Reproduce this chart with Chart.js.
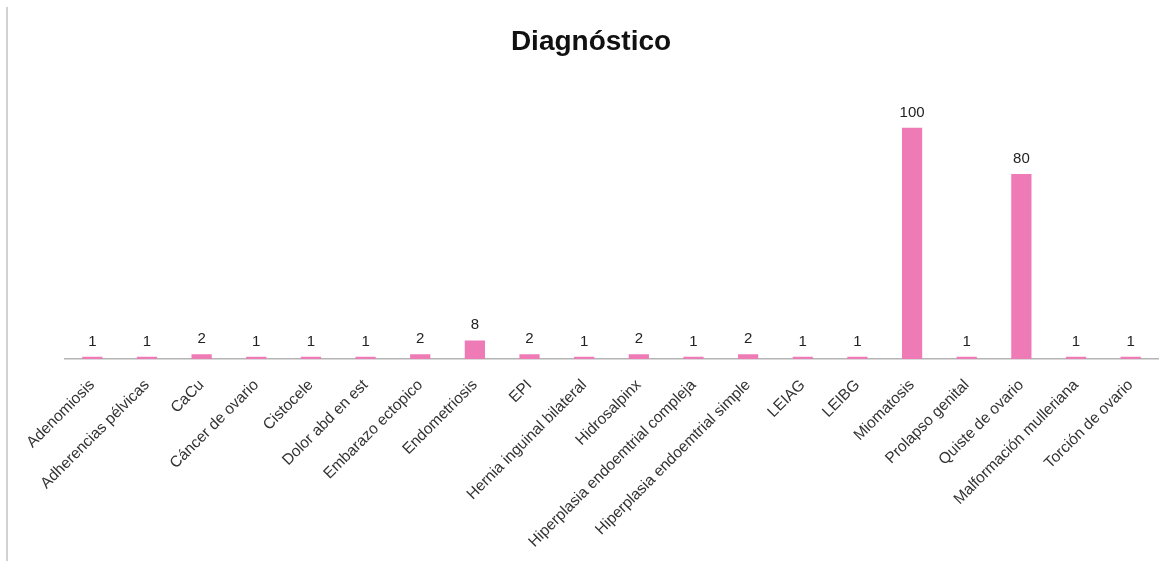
<!DOCTYPE html>
<html>
<head>
<meta charset="utf-8">
<style>
  html, body { margin: 0; padding: 0; background: #fff; }
  #wrap { position: relative; width: 1168px; height: 561px; }
</style>
<script src="https://cdn.jsdelivr.net/npm/chart.js@4.4.1/dist/chart.umd.min.js"></script>
</head>
<body>
<div id="wrap"><canvas id="chart" width="1168" height="561"></canvas></div>
<script>
const diagnosticos = [
  'Adenomiosis', 'Adherencias pélvicas', 'CaCu', 'Cáncer de ovario', 'Cistocele',
  'Dolor abd en est', 'Embarazo ectopico', 'Endometriosis', 'EPI',
  'Hernia inguinal bilateral', 'Hidrosalpinx', 'Hiperplasia endoemtrial compleja',
  'Hiperplasia endoemtrial simple', 'LEIAG', 'LEIBG', 'Miomatosis',
  'Prolapso genital', 'Quiste de ovario', 'Malformación mulleriana', 'Torción de ovario'
];
const casos = [1, 1, 2, 1, 1, 1, 2, 8, 2, 1, 2, 1, 2, 1, 1, 100, 1, 80, 1, 1];
const tituloGrafica = 'Diagnóstico';

const FONT = '"Liberation Sans", Arial, Helvetica, sans-serif';

// thin grey rule along the left edge of the sheet
const marcoIzquierdo = {
  id: 'marcoIzquierdo',
  beforeDraw(chart) {
    const ctx = chart.ctx;
    ctx.save();
    ctx.fillStyle = '#d2d2d2';
    ctx.fillRect(6, 7, 2, chart.height - 7);
    ctx.restore();
  }
};

// value printed above each bar
const etiquetasValor = {
  id: 'etiquetasValor',
  afterDatasetsDraw(chart) {
    const ctx = chart.ctx;
    const meta = chart.getDatasetMeta(0);
    ctx.save();
    ctx.font = '15px ' + FONT;
    ctx.fillStyle = '#222';
    ctx.textAlign = 'center';
    ctx.textBaseline = 'alphabetic';
    meta.data.forEach((bar, i) => {
      ctx.fillText(String(chart.data.datasets[0].data[i]), bar.x, bar.y - 11);
    });
    ctx.restore();
  }
};

new Chart(document.getElementById('chart'), {
  type: 'bar',
  data: {
    labels: diagnosticos,
    datasets: [{
      data: casos,
      backgroundColor: '#EE7BB6',
      borderWidth: 0,
      barPercentage: 0.37,
      categoryPercentage: 1.0
    }]
  },
  options: {
    responsive: false,
    animation: false,
    layout: { padding: { left: 24, right: 10, top: 0, bottom: 0 } },
    plugins: {
      legend: { display: false },
      tooltip: { enabled: false },
      title: {
        display: true,
        text: tituloGrafica,
        color: '#111',
        font: { family: FONT, size: 28, weight: 'bold' },
        padding: { top: 25, bottom: 69 }
      }
    },
    scales: {
      x: {
        grid: { display: false, drawTicks: false },
        border: { display: true, color: '#b4b4b4', width: 1.5 },
        ticks: {
          color: '#333',
          font: { family: FONT, size: 15.5 },
          minRotation: 45,
          maxRotation: 45,
          autoSkip: false,
          padding: 17
        },
        afterFit(scale) { scale.height = 202; }
      },
      y: {
        min: 0,
        max: 100,
        grid: { display: false, drawTicks: false },
        border: { display: false },
        ticks: { display: false },
        afterFit(scale) { scale.width = 41; }
      }
    }
  },
  plugins: [marcoIzquierdo, etiquetasValor]
});
</script>
</body>
</html>
